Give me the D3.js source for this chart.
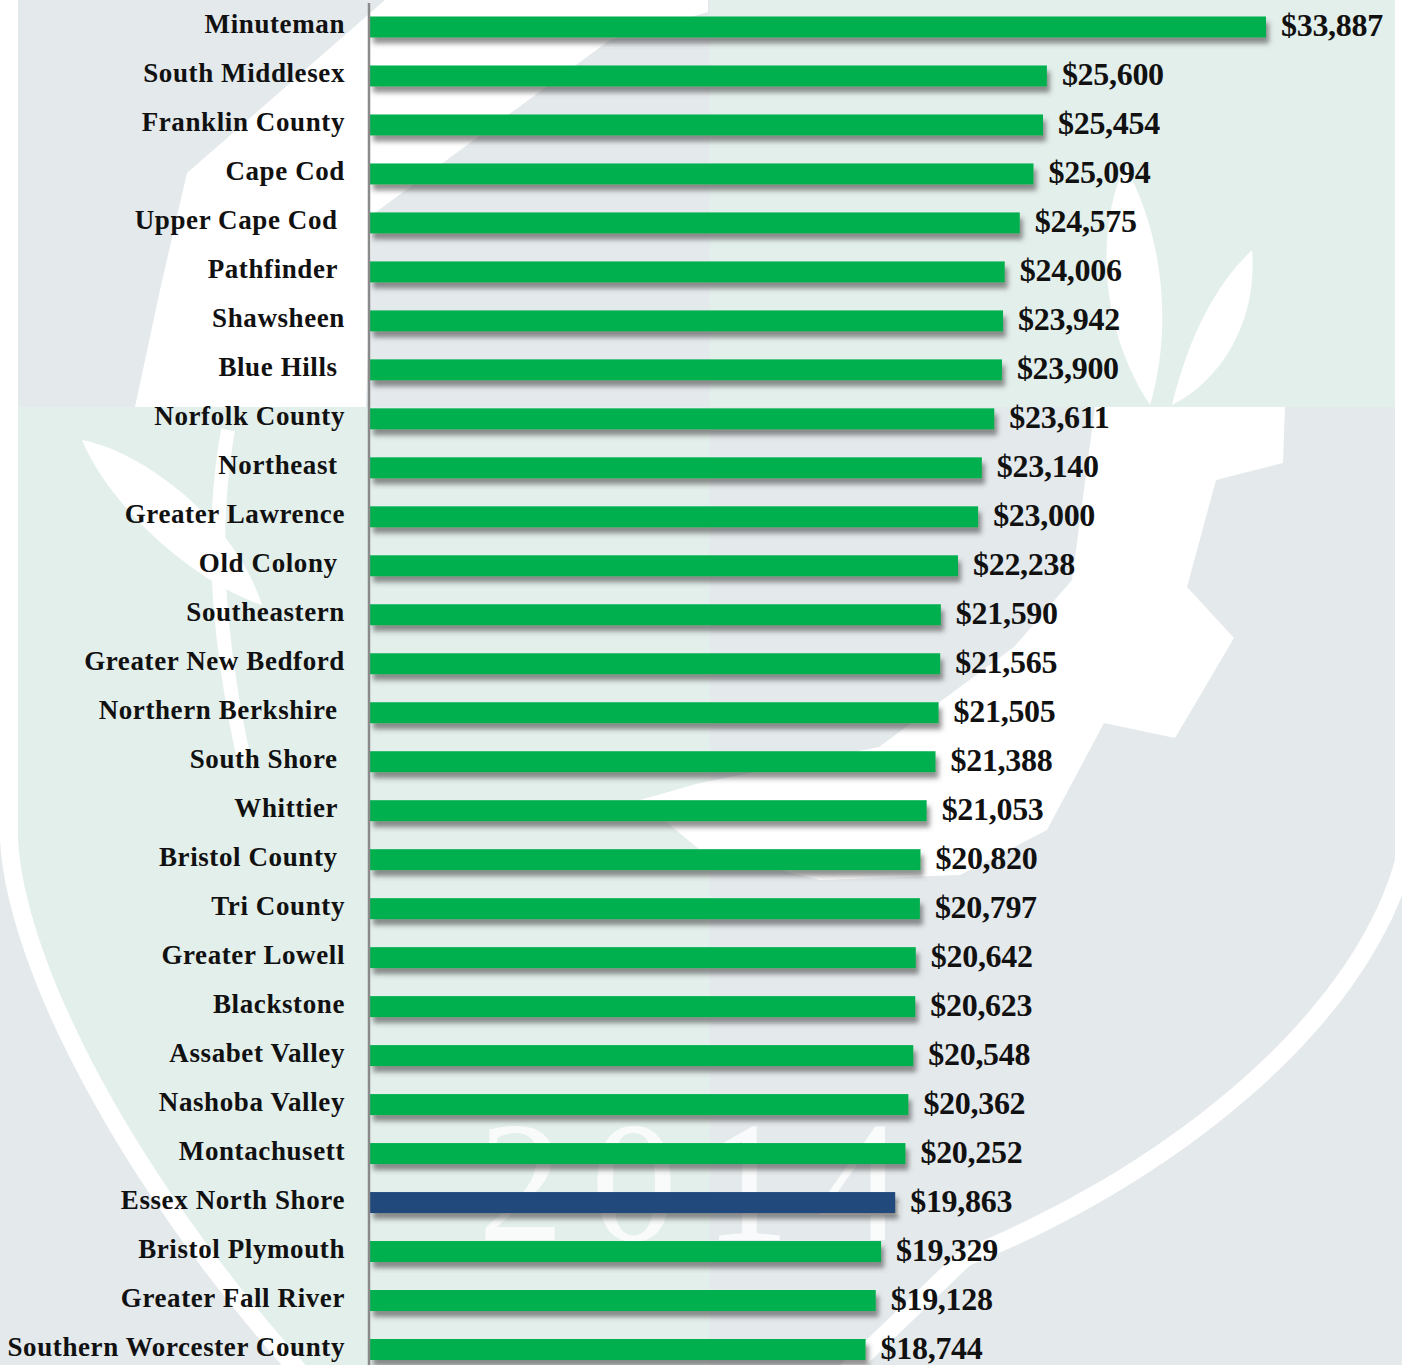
<!DOCTYPE html>
<html>
<head>
<meta charset="utf-8">
<script src="https://cdn.jsdelivr.net/npm/d3@7"></script>
<style>
    body { margin: 0; background: #ffffff; }
    svg { display: block; }
    .cat-label { font-family: "Liberation Serif", "DejaVu Serif", serif; font-weight: bold; font-size: 27px; fill: #111; white-space: pre; letter-spacing: 0.6px; }
    .val-label { font-family: "Liberation Serif", "DejaVu Serif", serif; font-weight: bold; font-size: 32px; fill: #111; letter-spacing: -0.3px; }
</style>
</head>
<body>
<svg id="chart" width="1402" height="1365"></svg>
<script>
// trailing spaces kept as in the original labels
const categories = [
    "Minuteman", "South Middlesex", "Franklin County", "Cape Cod", "Upper Cape Cod ",
    "Pathfinder ", "Shawsheen", "Blue Hills ", "Norfolk County", "Northeast ",
    "Greater Lawrence", "Old Colony ", "Southeastern", "Greater New Bedford", "Northern Berkshire ",
    "South Shore ", "Whittier ", "Bristol County ", "Tri County", "Greater Lowell",
    "Blackstone", "Assabet Valley", "Nashoba Valley", "Montachusett", "Essex North Shore",
    "Bristol Plymouth", "Greater Fall River", "Southern Worcester County"
];

const values = [
    33887, 25600, 25454, 25094, 24575,
    24006, 23942, 23900, 23611, 23140,
    23000, 22238, 21590, 21565, 21505,
    21388, 21053, 20820, 20797, 20642,
    20623, 20548, 20362, 20252, 19863,
    19329, 19128, 18744
];

const highlighted = ["Essex North Shore"];

const data = categories.map((c, i) => ({ name: c, value: values[i] }));

const width = 1402;
const height = 1365;
const svg = d3.select("#chart");

// ---------- watermark background ----------
const bg = svg.append("g");
const grayBg = "#e4e9ec";
const greenBg = "#e3efeb";

bg.append("rect").attr("width", width).attr("height", height).attr("fill", grayBg);

const shield = "M18,-10 L18,840 C25,960 130,1170 310,1370 L700,1500 L960,1250 C1160,1170 1350,1020 1395,860 L1395,-10 Z";

bg.append("path")
    .attr("d", shield)
    .attr("fill", "none")
    .attr("stroke", "#ffffff")
    .attr("stroke-width", 36);

svg.append("defs").append("clipPath").attr("id", "shieldClip")
    .append("path").attr("d", shield);

const inner = bg.append("g").attr("clip-path", "url(#shieldClip)");

inner.append("rect").attr("x", 0).attr("y", 0).attr("width", 710).attr("height", 407).attr("fill", grayBg);
inner.append("rect").attr("x", 710).attr("y", 0).attr("width", 700).attr("height", 407).attr("fill", greenBg);
inner.append("rect").attr("x", 0).attr("y", 407).attr("width", 710).attr("height", 1100).attr("fill", greenBg);
inner.append("rect").attr("x", 710).attr("y", 407).attr("width", 700).attr("height", 1100).attr("fill", grayBg);

const leaves = [
    "M385,0 L708,0 L708,12 L610,40 L372,215 L366,407 L135,407 L160,290 L187,173 Z",
    "M1095,407 L1285,407 L1283,463 L1216,480 L1187,587 L1234,638 L1175,738 L1104,723 L1047,830 L960,875 L820,880 L700,850 L640,800 L700,783 L879,747 L1014,647 L1072,580 Z",
    "M1150,405 C1100,330 1095,230 1125,165 C1165,240 1172,330 1150,405 Z",
    "M1172,405 C1190,330 1220,280 1252,250 C1258,320 1222,380 1172,405 Z",
    "M82,440 C140,450 235,520 262,605 C200,585 112,512 82,440 Z"
];

inner.selectAll(".leaf")
    .data(leaves)
    .enter().append("path")
    .attr("class", "leaf")
    .attr("d", d => d)
    .attr("fill", "#ffffff");

inner.append("path")
    .attr("d", "M228,430 C212,520 214,620 244,760")
    .attr("fill", "none")
    .attr("stroke", "#ffffff")
    .attr("stroke-width", 14);

inner.append("text")
    .attr("x", 478)
    .attr("y", 1240)
    .attr("textLength", 425)
    .attr("lengthAdjust", "spacing")
    .attr("font-family", "Liberation Serif, serif")
    .attr("font-size", 172)
    .attr("fill", "#ffffff")
    .attr("opacity", 0.8)
    .text("2014");

// ---------- chart ----------
const defs = svg.select("defs");
const shadow = defs.append("filter")
    .attr("id", "barShadow")
    .attr("x", "-5%").attr("y", "-50%")
    .attr("width", "110%").attr("height", "250%");
shadow.append("feDropShadow")
    .attr("dx", 3)
    .attr("dy", 6)
    .attr("stdDeviation", 2.5)
    .attr("flood-color", "#4a4a4a")
    .attr("flood-opacity", 0.6);

const x = d3.scaleLinear()
    .domain([0, d3.max(values)])
    .range([370, 1266]);

const y = d3.scalePoint()
    .domain(categories)
    .range([27, 1349.5]);

const barH = 21;

svg.append("g")
    .selectAll("rect")
    .data(data)
    .enter().append("rect")
    .attr("x", x(0))
    .attr("y", d => y(d.name) - barH / 2)
    .attr("width", d => x(d.value) - x(0))
    .attr("height", barH)
    .attr("fill", d => highlighted.includes(d.name) ? "#214a7c" : "#00b050")
    .attr("filter", "url(#barShadow)");

svg.append("line")
    .attr("x1", 369).attr("x2", 369)
    .attr("y1", 3).attr("y2", height)
    .attr("stroke", "#8a8a8a")
    .attr("stroke-width", 2.5);

svg.append("g")
    .selectAll("text")
    .data(data)
    .enter().append("text")
    .attr("class", "cat-label")
    .attr("x", 345)
    .attr("y", d => y(d.name) + 6)
    .attr("text-anchor", "end")
    .text(d => d.name);

const fmt = d3.format("$,");

svg.append("g")
    .selectAll("text")
    .data(data)
    .enter().append("text")
    .attr("class", "val-label")
    .attr("x", d => x(d.value) + 15)
    .attr("y", d => y(d.name) + 9)
    .text(d => fmt(d.value));
</script>
</body>
</html>
